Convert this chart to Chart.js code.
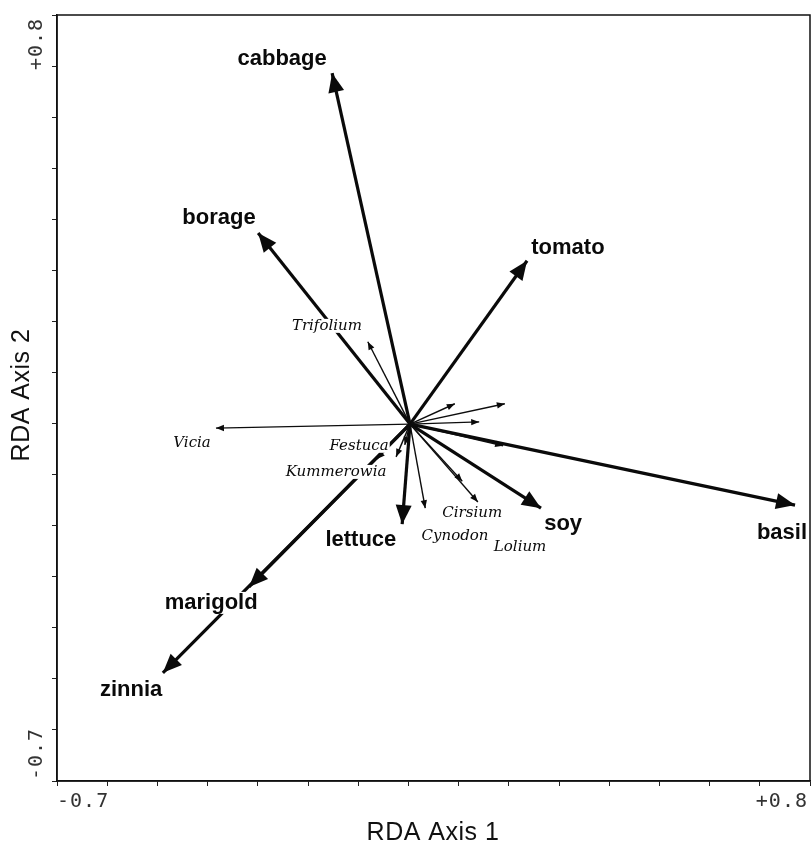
<!DOCTYPE html>
<html><head><meta charset="utf-8">
<script src="https://cdn.jsdelivr.net/npm/chart.js@4.4.1/dist/chart.umd.min.js"></script>
<style>html,body{margin:0;padding:0;background:#fff;} #wrap{width:811px;height:850px;position:relative;}</style>
</head><body><div id="wrap"><canvas id="c"></canvas></div>
<script>
// ---- axes ----
const axisMin = -0.8154, axisMax = 0.9154;
const tickLabelValues = [-0.7, 0.8];
const tickLabelTexts = ['-0.7', '+0.8'];
const tickCount = 16; // tick marks at equal spacing across the frame
const xTitle = 'RDA Axis 1';
const yTitle = 'RDA Axis 2';

// ---- arrow origin ----
const originXY = [-0.004, -0.009];

// ---- treatments (thick arrows) ----
const envNames  = ['cabbage','borage','tomato','basil','soy','lettuce','marigold','zinnia'];
const envX      = [-0.183, -0.353, 0.265, 0.881, 0.297, -0.022, -0.374, -0.572];
const envY      = [ 0.784,  0.423, 0.360,-0.192,-0.199, -0.235, -0.377, -0.571];
const envLabelX = [-0.298, -0.443, 0.359, 0.851, 0.348, -0.117, -0.461, -0.645];
const envLabelY = [ 0.816,  0.457, 0.389,-0.255,-0.235, -0.271, -0.413, -0.610];

// ---- species (thin arrows) ----
const sppNames  = ['Vicia','Trifolium','Festuca','Kummerowia','Cynodon','Cirsium','Lolium','','','','',''];
const sppX      = [-0.450, -0.101, -0.036, -0.080, 0.031, 0.152, 0.116, -0.016, 0.214, 0.099, 0.155, 0.210];
const sppY      = [-0.018,  0.177, -0.083, -0.088,-0.199,-0.185,-0.138, -0.056, 0.037, 0.037,-0.004,-0.058];
const sppLabelX = [-0.505, -0.195, -0.121, -0.174, 0.0995, 0.139, 0.249, null, null, null, null, null];
const sppLabelY = [-0.052,  0.213, -0.058, -0.117,-0.262, -0.210,-0.287, null, null, null, null, null];

const tickVals = [];
for (let k = 0; k < tickCount; k++) tickVals.push(axisMin + k * (axisMax - axisMin) / (tickCount - 1));

const datasets = [];
sppNames.forEach((n, i) => datasets.push({
  label: n || ('sp' + i), kind: 'spp',
  data: [{x: originXY[0], y: originXY[1]}, {x: sppX[i], y: sppY[i]}],
  borderColor: '#0d0d0d', borderWidth: 1.4, pointRadius: 0, showLine: true
}));
envNames.forEach((n, i) => datasets.push({
  label: n, kind: 'env',
  data: [{x: originXY[0], y: originXY[1]}, {x: envX[i], y: envY[i]}],
  borderColor: '#0a0a0a', borderWidth: 3.2, pointRadius: 0, showLine: true
}));

const biplotPlugin = {
  id: 'biplot',
  afterDatasetsDraw(chart) {
    const ctx = chart.ctx, xs = chart.scales.x, ys = chart.scales.y;
    ctx.save();
    chart.data.datasets.forEach(ds => {
      const p0 = ds.data[0], p1 = ds.data[1];
      const x0 = xs.getPixelForValue(p0.x), y0 = ys.getPixelForValue(p0.y);
      const x1 = xs.getPixelForValue(p1.x), y1 = ys.getPixelForValue(p1.y);
      const a = Math.atan2(y1 - y0, x1 - x0);
      const L = ds.kind === 'env' ? 19 : 8, W = ds.kind === 'env' ? 8 : 3.2;
      ctx.fillStyle = '#0a0a0a';
      ctx.beginPath();
      ctx.moveTo(x1, y1);
      ctx.lineTo(x1 - L * Math.cos(a) + W * Math.sin(a), y1 - L * Math.sin(a) - W * Math.cos(a));
      ctx.lineTo(x1 - L * Math.cos(a) - W * Math.sin(a), y1 - L * Math.sin(a) + W * Math.cos(a));
      ctx.closePath();
      ctx.fill();
    });
    const drawLab = (txt, vx, vy, font, h) => {
      if (!txt || vx === null) return;
      const px = xs.getPixelForValue(vx), py = ys.getPixelForValue(vy);
      ctx.font = font;
      const w = ctx.measureText(txt).width;
      ctx.fillStyle = '#fff';
      ctx.fillRect(px - w / 2 - 1, py - h / 2, w + 2, h);
      ctx.fillStyle = '#0a0a0a';
      ctx.textAlign = 'center'; ctx.textBaseline = 'middle';
      ctx.fillText(txt, px, py);
    };
    sppNames.forEach((n, i) => drawLab(n, sppLabelX[i], sppLabelY[i], 'italic 15px "DejaVu Serif"', 14));
    envNames.forEach((n, i) => drawLab(n, envLabelX[i], envLabelY[i], 'bold 22px "Liberation Sans"', 22));
    ctx.restore();
  },
  afterDraw(chart) {
    const ctx = chart.ctx, xs = chart.scales.x, ys = chart.scales.y, a = chart.chartArea;
    ctx.save();
    ctx.strokeStyle = '#111'; ctx.lineWidth = 1.5;
    ctx.strokeRect(a.left, a.top, a.right - a.left, a.bottom - a.top);
    ctx.fillStyle = '#333';
    ctx.font = '20px "DejaVu Sans Mono"';
    if ('letterSpacing' in ctx) ctx.letterSpacing = '1px';
    ctx.textBaseline = 'middle';
    let px = xs.getPixelForValue(tickLabelValues[0]);
    ctx.textAlign = 'right'; ctx.fillText(tickLabelTexts[0], px + 2, 802);
    px = xs.getPixelForValue(tickLabelValues[1]);
    ctx.textAlign = 'left'; ctx.fillText(tickLabelTexts[1], px - 4, 802);
    let py = ys.getPixelForValue(tickLabelValues[0]);
    ctx.save(); ctx.translate(37, py); ctx.rotate(-Math.PI / 2);
    ctx.textAlign = 'right'; ctx.fillText(tickLabelTexts[0], 2, 0); ctx.restore();
    py = ys.getPixelForValue(tickLabelValues[1]);
    ctx.save(); ctx.translate(37, py); ctx.rotate(-Math.PI / 2);
    ctx.textAlign = 'left'; ctx.fillText(tickLabelTexts[1], -4, 0); ctx.restore();
    if ('letterSpacing' in ctx) ctx.letterSpacing = '0.5px';
    ctx.fillStyle = '#111';
    ctx.font = '25px "Liberation Sans"';
    ctx.textAlign = 'center'; ctx.textBaseline = 'middle';
    ctx.fillText(xTitle, 433, 833);
    ctx.save(); ctx.translate(22, 395); ctx.rotate(-Math.PI / 2);
    ctx.fillText(yTitle, 0, 0); ctx.restore();
    ctx.restore();
  }
};

const axisCommon = {
  type: 'linear', min: axisMin, max: axisMax,
  afterBuildTicks: s => { s.ticks = tickVals.map(v => ({value: v})); },
  ticks: { autoSkip: false, callback: () => '', padding: 0, font: {size: 1} },
  grid: { display: true, drawOnChartArea: false, drawTicks: true, tickLength: 5, color: '#222', lineWidth: 1 },
  border: { display: true, color: '#111', width: 1.5 }
};

new Chart(document.getElementById('c'), {
  type: 'scatter',
  data: { datasets },
  options: {
    responsive: true, maintainAspectRatio: false, animation: false,
    layout: { padding: { top: 15, right: 1, left: 0, bottom: 0 } },
    plugins: { legend: { display: false }, tooltip: { enabled: false } },
    scales: {
      x: Object.assign({}, axisCommon, { position: 'bottom', afterFit: s => { s.height = 69; } }),
      y: Object.assign({}, axisCommon, { position: 'left', afterFit: s => { s.width = 57; } })
    }
  },
  plugins: [biplotPlugin]
});
</script>
</body></html>
